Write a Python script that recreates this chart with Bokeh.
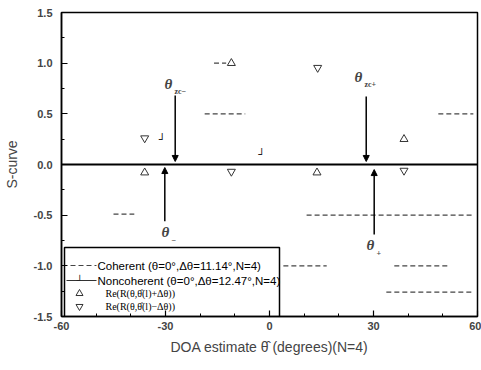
from bokeh.plotting import figure
from bokeh.models import (LinearAxis, Label, Arrow, NormalHead, Range1d,
                          SingleIntervalTicker)
from bokeh.core.properties import value
from bokeh.embed import file_html
from bokeh.resources import INLINE

# ---------------- data ----------------
x_ticks = [-60, -30, 0, 30, 60]
y_ticks = [-1.5, -1.0, -0.5, 0.0, 0.5, 1.0, 1.5]

# Re(R(theta, theta_hat + dtheta))  (up triangles)
up_x = [-36.0, -11.0, 13.7, 38.8]
up_y = [-0.08, 1.00, -0.08, 0.25]
# Re(R(theta, theta_hat - dtheta))  (down triangles)
dn_x = [-36.0, -11.0, 13.9, 38.8]
dn_y = [0.26, -0.07, 0.955, -0.06]

# Noncoherent curve markers
nc_x = [-31.0, -2.3]
nc_y = [0.25, 0.10]

# Zero-level curve
zero_x = [-60, 60]
zero_y = [0.0, 0.0]

# Visible (faded) coherent curve segments
coh_x0 = [10.7, 4.0, 36.0, 33.7, 48.7, -18.7, -16.0, -45.0]
coh_x1 = [59.0, 16.5, 51.6, 59.0, 58.8, -7.0, -12.5, -39.0]
coh_y = [-0.50, -1.00, -1.00, -1.26, 0.50, 0.50, 1.00, -0.49]

# Zero-crossing arrows: x, y_start, y_end
arr_x = [-27.2, -30.2, 27.9, 30.2]
arr_y0 = [0.68, -0.56, 0.67, -0.69]
arr_y1 = [0.03, -0.03, 0.03, -0.05]

# ---------------- figure ----------------
W, H = 481, 370
OFF = 0  # page offset of the figure
# frame in page pixels
FL, FR, FT, FB = 61, 477, 12, 316
p = figure(width=W, height=H, output_backend="svg", toolbar_location=None,
           x_range=Range1d(-60, 60), y_range=Range1d(-1.5, 1.5),
           min_border_left=FL - OFF, min_border_right=W + OFF - FR,
           min_border_top=FT - OFF, min_border_bottom=H + OFF - FB,
           x_axis_type=None, y_axis_type=None)
p.grid.visible = False
p.outline_line_color = "black"
p.outline_line_width = 1.5
p.background_fill_color = "white"
p.border_fill_color = "white"

def style_axis(ax, minor):
    ax.ticker = SingleIntervalTicker(interval=minor[0], num_minor_ticks=minor[1])
    ax.axis_line_width = 1.5
    ax.major_tick_in = 6
    ax.major_tick_out = 0
    ax.minor_tick_in = 3
    ax.minor_tick_out = 0
    ax.major_tick_line_width = 1.2
    ax.major_label_text_font = "Liberation Sans"
    ax.major_label_text_font_style = "bold"
    ax.major_label_text_font_size = "11px"
    ax.axis_label_text_font = "Liberation Sans"
    ax.axis_label_text_font_style = "normal"
    ax.axis_label_text_font_size = "14px"

xa = LinearAxis(axis_label="DOA estimate θ̂ (degrees)(N=4)")
style_axis(xa, (30, 3))
xa.major_label_standoff = 5
xa.axis_label_standoff = 6
xa.major_label_overrides = {v: str(v) for v in x_ticks}
p.add_layout(xa, "below")

ya = LinearAxis(axis_label="S-curve")
style_axis(ya, (0.5, 2))
ya.major_label_standoff = 9
ya.axis_label_standoff = 11
ya.major_label_overrides = {v: f"{v:.1f}" for v in y_ticks}
p.add_layout(ya, "left")

# ---------------- curves ----------------
p.segment(x0=coh_x0, y0=coh_y, x1=coh_x1, y1=coh_y, line_color="#444444",
          line_width=1.2, line_dash="5 3")
p.line(zero_x, zero_y, line_color="black", line_width=2)

p.scatter(up_x, up_y, marker="triangle", size=8, fill_color=None,
          line_color="#333333", line_width=1)
p.scatter(dn_x, dn_y, marker="inverted_triangle", size=8, fill_color=None,
          line_color="#333333", line_width=1)
p.text(nc_x, nc_y, text=["┘"] * len(nc_x), text_font=value("DejaVu Sans"),
       text_font_size="11px", text_align="center", text_baseline="middle",
       text_color="#222222")

for x, y0, y1 in zip(arr_x, arr_y0, arr_y1):
    p.add_layout(Arrow(end=NormalHead(size=6, fill_color="black", line_color="black"),
                       x_start=x, y_start=y0, x_end=x, y_end=y1,
                       line_width=1.5, line_color="black"))

# page pixel -> data helpers
def dx(px):
    return -60 + (px - FL) * 120.0 / (FR - FL)

def dy(py):
    return 1.5 - (py - FT) * 3.0 / (FB - FT)

def theta_label(px, py, sub):
    p.add_layout(Label(x=dx(px), y=dy(py), text="θ", text_font="Liberation Serif",
                       text_font_style="bold italic", text_font_size="15px",
                       text_align="center", text_baseline="middle"))
    p.add_layout(Label(x=dx(px + 6), y=dy(py + 8), text=sub, text_font="Liberation Serif",
                       text_font_style="bold", text_font_size="8px",
                       text_align="left", text_baseline="middle"))

theta_label(168, 83, "zc−")
theta_label(358, 76, "zc+")
theta_label(165, 231, "−")
theta_label(370, 244, "+")

# ---------------- legend (drawn manually) ----------------
p.quad(left=[dx(64)], right=[dx(279)], top=[dy(247)], bottom=[dy(316)],
       fill_color="white", line_color="black", line_width=1.5)

rows = [265, 280, 293, 306]
p.segment(x0=[dx(70)], y0=[dy(rows[0])], x1=[dx(96)], y1=[dy(rows[0])],
          line_color="#444444", line_width=1.2, line_dash="5 3")
p.segment(x0=[dx(66)], y0=[dy(rows[1])], x1=[dx(96)], y1=[dy(rows[1])],
          line_color="#333333", line_width=1.2)
p.text([dx(79)], [dy(rows[1])], text=["┘"], text_font=value("DejaVu Sans"),
       text_font_size="10px", text_align="center", text_baseline="middle",
       text_color="#222222")
p.scatter([dx(79)], [dy(rows[2])], marker="triangle", size=7, fill_color=None,
          line_color="#333333")
p.scatter([dx(79)], [dy(rows[3])], marker="inverted_triangle", size=7, fill_color=None,
          line_color="#333333")

leg_texts = ["Coherent (θ=0°,Δθ=11.14°,N=4)",
             "Noncoherent (θ=0°,Δθ=12.47°,N=4)"]
for t, r in zip(leg_texts, rows[:2]):
    p.text([dx(97)], [dy(r)], text=[t], text_font=value("Liberation Sans"),
           text_font_size="11.5px", text_baseline="middle", text_align="left")
leg_texts2 = ["Re(R(θ,θ̂(l)+Δθ))", "Re(R(θ,θ̂(l)−Δθ))"]
for t, r in zip(leg_texts2, rows[2:]):
    p.text([dx(105)], [dy(r)], text=[t], text_font=value("Liberation Serif"),
           text_font_size="10px", text_baseline="middle", text_align="left")

open("out.html", "w").write(file_html(p, INLINE))
